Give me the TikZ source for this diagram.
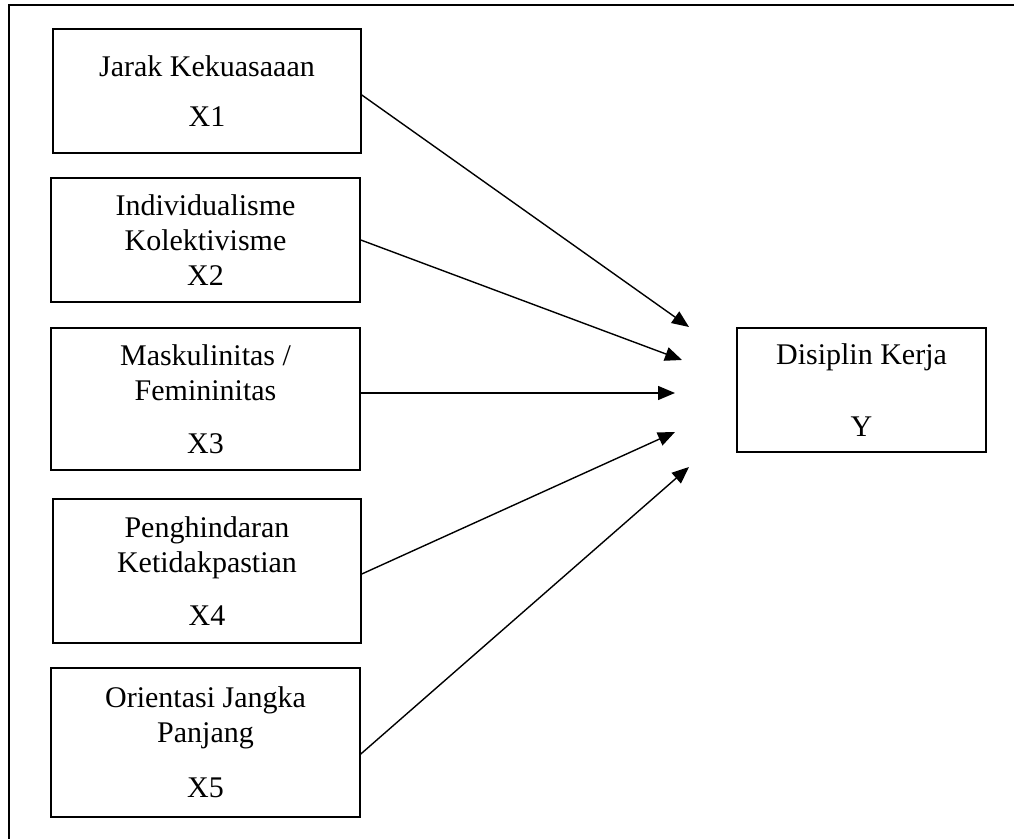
\documentclass[tikz,border=0pt]{standalone}
\usepackage{fontspec}
\setmainfont{Liberation Serif}
\usetikzlibrary{arrows.meta, positioning, calc}

\begin{document}
\begin{tikzpicture}[x=0.5pt, y=-0.5pt, >={Triangle[length=8.5pt, width=7pt]},
    varbox/.style={draw, line width=0.8pt, align=center, inner sep=0pt,
                   font=\fontsize{15}{17.5}\selectfont},
    link/.style={->, line width=0.7pt}]
    \useasboundingbox (0,0) rectangle (1014,839);
    % frame (only top and left edges show)
    \draw[line width=1pt] (1014,5) -- (9,5) -- (9,839);

    \node[varbox, minimum width=154pt, minimum height=62pt] (x1) at (207,91)
        {Jarak Kekuasaaan\\[7.5pt] X1};
    \node[varbox, minimum width=154.5pt, minimum height=62pt] (x2) at (205.5,240)
        {Individualisme\\ Kolektivisme\\ X2};
    \node[varbox, minimum width=154.5pt, minimum height=71pt] (x3) at (205.5,399)
        {Maskulinitas /\\ Femininitas\\[9pt] X3};
    \node[varbox, minimum width=154pt, minimum height=72pt] (x4) at (207,571)
        {Penghindaran\\ Ketidakpastian\\[9pt] X4};
    \node[varbox, minimum width=154.5pt, minimum height=74.5pt] (x5) at (205.5,742.5)
        {Orientasi Jangka\\ Panjang\\[10pt] X5};
    \node[varbox, minimum width=124.5pt, minimum height=62pt] (y) at (861.5,390)
        {Disiplin Kerja\\[18.5pt] Y};

    % arrow tips stop short of Y
    \coordinate (t1) at (689,327);
    \coordinate (t2) at (682,360);
    \coordinate (t3) at (675,393);
    \coordinate (t4) at (675,432);
    \coordinate (t5) at (689,467);

    \draw[link] ([yshift=-2pt]x1.east) -- (t1);
    \draw[link] (x2.east) -- (t2);
    \draw[link] ([yshift=3pt]x3.east) -- (t3);
    \draw[link] ([yshift=-1.5pt]x4.east) -- (t4);
    \draw[link] ([yshift=-5.75pt]x5.east) -- (t5);
\end{tikzpicture}
\end{document}
